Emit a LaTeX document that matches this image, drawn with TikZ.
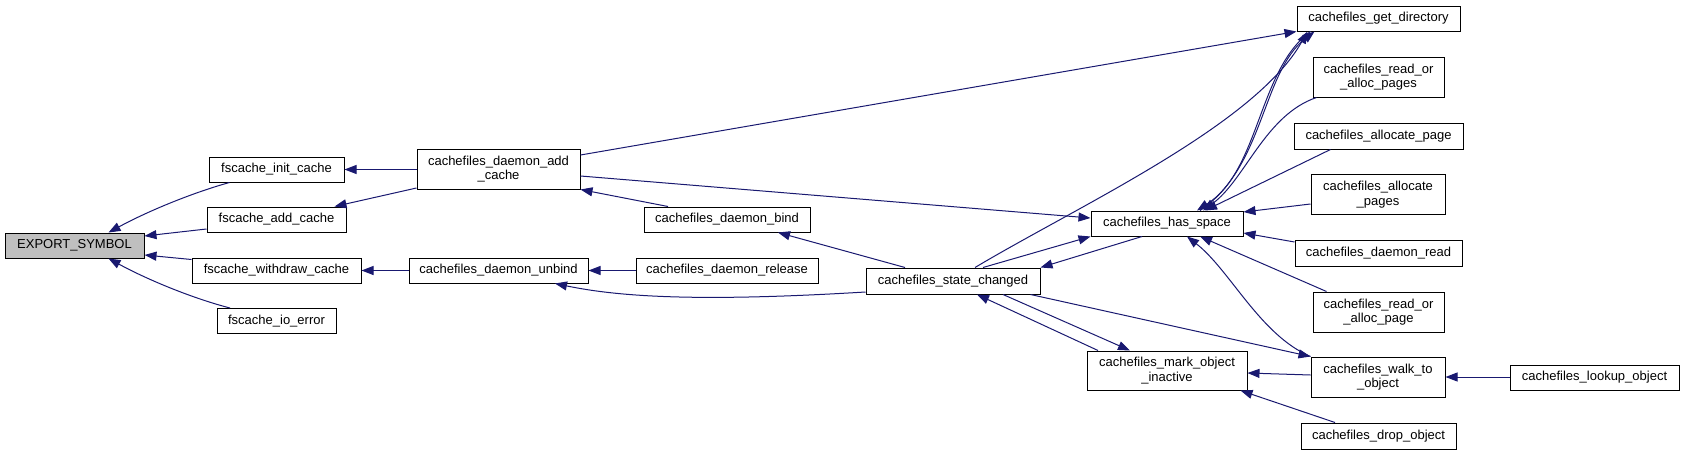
\documentclass[tikz,border=0pt]{standalone}
\usepackage{fontspec}
\setmainfont{Liberation Sans}
\usetikzlibrary{arrows.meta}
\definecolor{navy}{HTML}{191970}
\definecolor{rootgrey}{HTML}{BFBFBF}
\newcommand\dxfont{\fontsize{13}{14.5}\selectfont}
\begin{document}
\begin{tikzpicture}[x=1pt,y=-1pt,
  box/.style={draw=black, line width=1pt, fill=white, minimum height=25pt, inner sep=0pt, font=\dxfont, align=center, anchor=center},
  tall/.style={minimum height=40pt},
  eb/.style={draw=navy, line width=1pt, {Triangle[length=12pt,width=9pt]}-},
  ef/.style={draw=navy, line width=1pt, -{Triangle[length=12pt,width=9pt]}}]
\useasboundingbox (0,0) rectangle (1684,455);
% nodes
\node[box, fill=rootgrey, minimum width=139pt] (es) at (74.5,245.5) {EXPORT\_SYMBOL};
\node[box, minimum width=135pt] (fic) at (276.5,169.5) {fscache\_init\_cache};
\node[box, minimum width=139pt] (fac) at (276.5,219.5) {fscache\_add\_cache};
\node[box, minimum width=169pt] (fwd) at (276.5,270.5) {fscache\_withdraw\_cache};
\node[box, minimum width=119pt] (fio) at (276.5,321) {fscache\_io\_error};
\node[box, tall, minimum width=163pt] (dac) at (498.5,169) {cachefiles\_daemon\_add\\\_cache};
\node[box, minimum width=166pt] (dbind) at (727,219.5) {cachefiles\_daemon\_bind};
\node[box, minimum width=179pt] (dunbind) at (498.5,270.5) {cachefiles\_daemon\_unbind};
\node[box, minimum width=182pt] (drel) at (727,270.5) {cachefiles\_daemon\_release};
\node[box, minimum width=152pt] (hs) at (1167,223.5) {cachefiles\_has\_space};
\node[box, minimum width=174pt, minimum height=26pt] (sc) at (953,281) {cachefiles\_state\_changed};
\node[box, tall, minimum width=160pt, minimum height=39pt] (mark) at (1167,370.5) {cachefiles\_mark\_object\\\_inactive};
\node[box, minimum width=163pt] (gd) at (1378.5,18.5) {cachefiles\_get\_directory};
\node[box, tall, minimum width=131pt] (rap) at (1378.5,77) {cachefiles\_read\_or\\\_alloc\_pages};
\node[box, minimum width=169pt, minimum height=26pt] (ap) at (1378.5,136) {cachefiles\_allocate\_page};
\node[box, tall, minimum width=134pt] (aps) at (1378,194.5) {cachefiles\_allocate\\\_pages};
\node[box, minimum width=167pt, minimum height=26pt] (dread) at (1378.5,253) {cachefiles\_daemon\_read};
\node[box, tall, minimum width=131pt] (rap1) at (1378.5,312) {cachefiles\_read\_or\\\_alloc\_page};
\node[box, tall, minimum width=134pt] (walk) at (1378,377) {cachefiles\_walk\_to\\\_object};
\node[box, minimum width=155pt, minimum height=26pt] (drop) at (1378.5,436) {cachefiles\_drop\_object};
\node[box, minimum width=169pt] (lookup) at (1594.5,377.5) {cachefiles\_lookup\_object};
% edges
\draw[eb] ([xshift=34]es.north) .. controls (150,210) and (195,192) .. ([xshift=-47]fic.south);
\draw[eb] ([yshift=9.5]es.east) -- ([yshift=-9.5]fac.west);
\draw[eb] ([yshift=-9.5]es.east) -- ([yshift=11]fwd.west);
\draw[eb] ([xshift=34]es.south) .. controls (150,281) and (195,299) .. ([xshift=-46.5]fio.north);
\draw[eb] (fic.east) -- (fic.east -| dac.west);
\draw[eb] ([xshift=58]fac.north) -- ([yshift=-19]dac.west);
\draw[eb] (fwd.east) -- (dunbind.west);
\draw[eb] (dunbind.east) -- (drel.west);
\draw[eb] ([xshift=56.5]dunbind.south) .. controls (620,297) and (700,302) .. ([yshift=-11]sc.west);
\draw[eb] (dac.south east) -- ([xshift=-59]dbind.north);
\draw[eb] ([xshift=51]dbind.south) -- ([xshift=-48]sc.north);
\draw[ef] ([yshift=14]dac.east) -- (gd.south west);
\draw[ef] ([yshift=-7]dac.east) -- ([yshift=5.5]hs.west);
\draw[ef] ([xshift=22]sc.north) .. controls (1080,205) and (1255,125) .. ([xshift=-71]gd.south);
\draw[ef] ([xshift=30]sc.north) -- (hs.south west);
\draw[eb] (sc.north east) -- ([xshift=-25]hs.south);
\draw[ef] ([xshift=50]sc.south) -- ([xshift=-37]mark.north);
\draw[eb] ([xshift=24]sc.south) -- ([xshift=-69]mark.north);
\draw[ef] ([xshift=-10]sc.south east) -- (walk.north west);
\draw[eb] ([xshift=20]hs.south) .. controls (1230,270) and (1260,335) .. (walk.north west);
\draw[eb] ([yshift=-2.5]mark.east) -- ([yshift=2]walk.west);
\draw[eb] ([xshift=-7]mark.south east) -- ([xshift=-43.5]drop.north);
\draw[eb] (walk.east) -- (walk.east -| lookup.west);
\draw[eb] ([yshift=-9.5]hs.east) -- ([yshift=11]dread.west);
\draw[eb] ([xshift=33]hs.south) -- ([xshift=-52]rap1.north);
\draw[eb] ([yshift=11.5]hs.east) -- ([yshift=-9.5]aps.west);
\draw[eb] ([xshift=38]hs.north) -- ([xshift=-48]ap.south);
\draw[eb] ([xshift=36]hs.north) .. controls (1245,180) and (1265,115) .. ([xshift=-62]rap.south);
\draw[eb] ([xshift=30]hs.north) .. controls (1260,170) and (1258,70) .. ([xshift=-68]gd.south);
\draw[ef] ([xshift=33]hs.north) .. controls (1264,168) and (1262,72) .. ([xshift=-64]gd.south);
\end{tikzpicture}
\end{document}
